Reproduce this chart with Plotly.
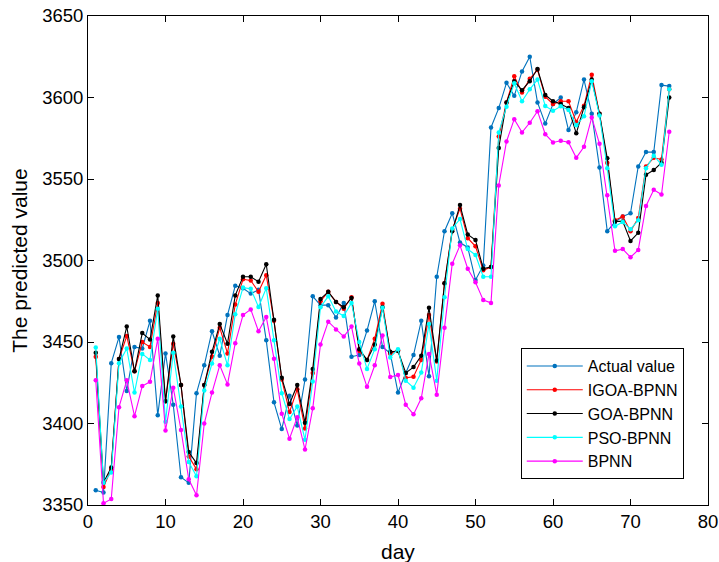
import plotly.graph_objects as go

days = list(range(1, 76))

actual = [3359, 3357.7, 3437, 3453, 3420, 3447, 3446, 3463, 3405, 3443,
          3411.5, 3367, 3363.6, 3418.6, 3435.7, 3456.6, 3441.6, 3466.5, 3484.5, 3483,
          3479.7, 3482, 3451, 3413, 3396.6, 3417, 3398.8, 3427, 3478, 3472.6,
          3472.6, 3465, 3474, 3441, 3442, 3457, 3475, 3447, 3443, 3419,
          3431, 3442, 3463, 3429, 3490, 3518, 3529, 3511, 3508, 3488,
          3497, 3581.6, 3593.5, 3609, 3601, 3616, 3625, 3597, 3584, 3596,
          3600, 3580, 3591, 3611, 3590, 3557, 3518, 3523.6, 3527, 3529,
          3557.7, 3566.5, 3566.5, 3607.6, 3607]

igoa = [3441, 3361, 3372, 3439.5, 3453.7, 3432, 3450, 3447, 3474, 3413.7,
        3449, 3423.6, 3379.7, 3372, 3423.6, 3441, 3458.8, 3443, 3473, 3488.5,
        3487.8, 3480.8, 3491, 3463, 3427, 3407, 3421, 3397, 3431, 3475,
        3480.8, 3474.6, 3470.4, 3477.5, 3444.5, 3439, 3452, 3473.5, 3443, 3445,
        3428, 3428.7, 3439, 3466.5, 3438, 3486, 3519, 3531.8, 3513.7, 3508.7,
        3494, 3496, 3576, 3597, 3613, 3603, 3611.5, 3617, 3600.5, 3596,
        3597.7, 3597.7, 3585, 3595, 3614, 3590, 3560, 3524.7, 3527, 3518,
        3526, 3557.7, 3563, 3562, 3605]

goa = [3443.4, 3363.8, 3373, 3439.5, 3459.5, 3432, 3455.5, 3451.5, 3478.6, 3413.7,
       3453.3, 3423.6, 3382.5, 3375.7, 3423.6, 3444, 3461, 3449, 3478.6, 3490,
       3490, 3487, 3497.7, 3463.6, 3428, 3412, 3423.6, 3400.5, 3433.5, 3476.4,
       3480.8, 3474.6, 3471.3, 3477, 3445.6, 3439, 3448.5, 3471.3, 3444, 3444.5,
       3431, 3434.6, 3441.6, 3471, 3438.6, 3486, 3518, 3534, 3516, 3512.6,
       3495, 3496, 3569, 3597, 3610, 3604.5, 3610, 3617.5, 3601.6, 3597.7,
       3596, 3593.5, 3578, 3594, 3611, 3590, 3562.7, 3524, 3524, 3512,
       3517, 3552.6, 3555.5, 3560, 3600]

pso = [3446.7, 3363.6, 3370, 3437, 3446, 3419, 3442.7, 3439, 3470.4, 3401,
       3443.4, 3410.4, 3376.4, 3367.6, 3420.3, 3436.8, 3452, 3435.7, 3467, 3483.4,
       3482.6, 3471.5, 3483, 3451, 3418.6, 3402.7, 3410.4, 3390, 3425.8, 3471.3,
       3478, 3468.7, 3466, 3474, 3450, 3433.5, 3445.6, 3471, 3440.5, 3445.6,
       3426.3, 3422, 3431.3, 3461, 3426.3, 3477.5, 3519.7, 3525.4, 3507, 3503.4,
       3490, 3490, 3578.6, 3594.4, 3608.7, 3597.7, 3605, 3611, 3594.8, 3591.8,
       3594.6, 3592.4, 3583, 3588.5, 3610, 3589, 3556.6, 3521, 3523.6, 3519.2,
       3524.7, 3556.6, 3564.3, 3558.8, 3605]

bpnn = [3426.5, 3351, 3353.7, 3410, 3426.5, 3404.5, 3423, 3425.6, 3452, 3395.7,
        3422, 3396, 3365.8, 3356, 3400, 3419, 3435.7, 3424, 3449.3, 3466.5,
        3470, 3456.6, 3465.4, 3439.7, 3406, 3390.7, 3403.8, 3384, 3409.3, 3448.5,
        3462.5, 3457.7, 3453.3, 3459.5, 3436.8, 3422.5, 3435.7, 3454, 3428.5, 3429.8,
        3411.5, 3405.6, 3415.5, 3442.7, 3417.7, 3458.8, 3498, 3509.3, 3495, 3486.7,
        3475.7, 3474, 3546, 3573, 3586.7, 3578.6, 3584.5, 3591.6, 3577.5, 3572.4,
        3573.5, 3572.6, 3563, 3569.8, 3587.8, 3571.6, 3540, 3506, 3507, 3502,
        3506.5, 3533.5, 3543.4, 3540.5, 3579]

series_names = ["Actual value", "IGOA-BPNN", "GOA-BPNN", "PSO-BPNN", "BPNN"]
series_values = [actual, igoa, goa, pso, bpnn]
series_colors = ["rgb(0,114,189)", "rgb(255,0,0)", "rgb(0,0,0)", "rgb(0,255,255)", "rgb(255,0,255)"]

fig = go.Figure()
for name, vals, col in zip(series_names, series_values, series_colors):
    fig.add_trace(go.Scatter(
        x=days, y=vals, name=name, mode="lines+markers",
        line=dict(color=col, width=1.1),
        marker=dict(color=col, size=4.5),
    ))

font_family = "Arial, Liberation Sans, Helvetica, sans-serif"
axis_common = dict(
    showline=True, linecolor="black", linewidth=1, mirror="allticks",
    ticks="inside", ticklen=6, tickcolor="black", tickwidth=1,
    showgrid=False, zeroline=False, automargin=False,
    tickfont=dict(family=font_family, size=18.5, color="black"),
)

fig.update_layout(
    width=719, height=562,
    margin=dict(l=88, r=11, t=16, b=57),
    paper_bgcolor="white", plot_bgcolor="white",
    font=dict(family=font_family, color="black"),
    xaxis=dict(range=[0, 80], dtick=10, tick0=0, **axis_common),
    yaxis=dict(range=[3350, 3650], dtick=50, tick0=3350,
               title=dict(text="The predicted value", font=dict(size=21), standoff=8), **axis_common),
    legend=dict(x=0.698, y=0.321, xanchor="left", yanchor="top",
                bordercolor="black", borderwidth=1, bgcolor="white",
                font=dict(family=font_family, size=16, color="black"),
                tracegroupgap=0, itemwidth=56),
    showlegend=True,
    annotations=[dict(text="day", xref="paper", yref="paper", x=0.5, y=0,
                      xanchor="center", yanchor="top", yshift=-33, showarrow=False,
                      font=dict(family=font_family, size=21, color="black"))],
)

fig.write_html("out.html")
